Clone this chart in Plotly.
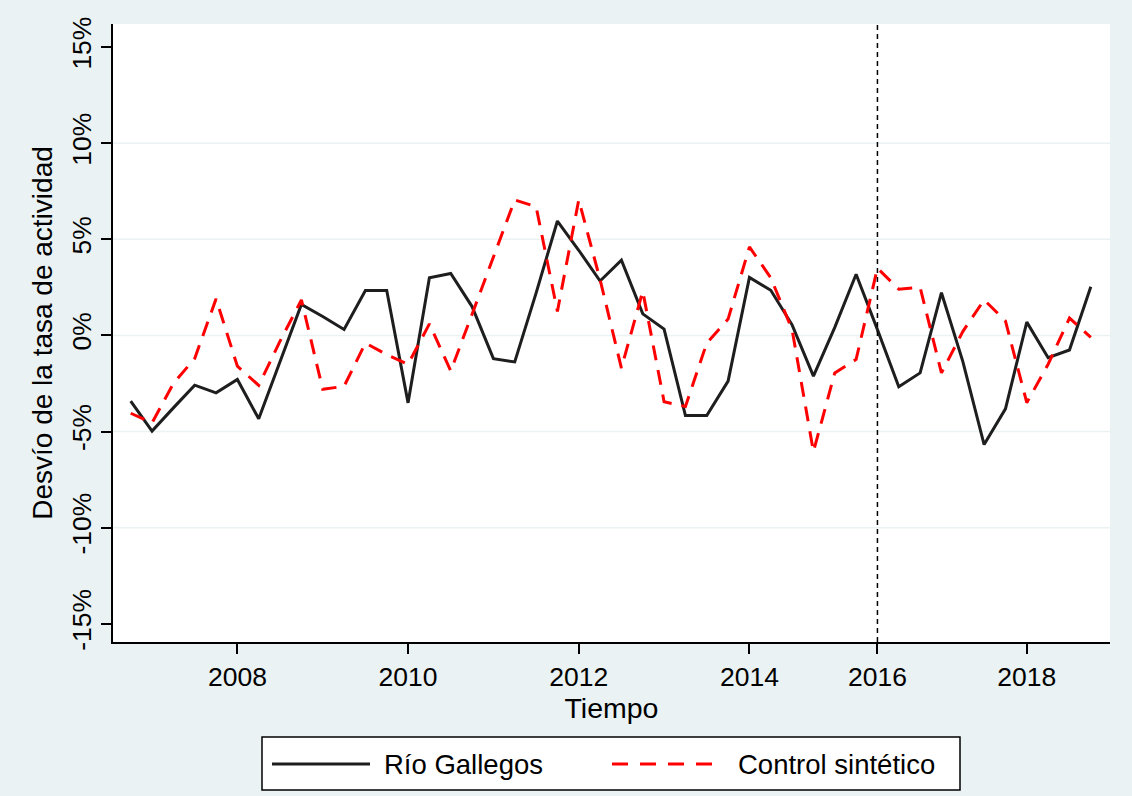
import plotly.graph_objects as go

# Quarterly observation index (gaps in the survey are skipped, so the index is sequential)
periodo = list(range(46))

# Deviation of the activity rate, percent
rio_gallegos = [
    -3.42, -4.98, -3.77, -2.59, -2.99, -2.29, -4.34, -1.37, 1.61, 0.98,
    0.31, 2.34, 2.34, -3.51, 3.00, 3.22, 1.50, -1.21, -1.38, 2.20,
    5.95, 4.43, 2.83, 3.91, 1.12, 0.33, -4.17, -4.17, -2.38, 3.02,
    2.35, 0.55, -2.12, 0.42, 3.18, 0.30, -2.67, -1.95, 2.22, -1.35,
    -5.68, -3.82, 0.69, -1.16, -0.76, 2.53,
]
control_sintetico = [
    -4.05, -4.55, -2.50, -1.20, 1.90, -1.60, -2.60, -0.30, 1.85, -2.80,
    -2.65, -0.40, -1.00, -1.50, 0.60, -1.85, 1.10, 4.10, 7.05, 6.70,
    1.25, 7.05, 2.90, -1.70, 2.30, -3.45, -3.70, -0.40, 0.85, 4.60,
    3.00, 0.30, -6.05, -1.95, -1.25, 3.50, 2.40, 2.50, -1.95, 0.20,
    1.85, 0.75, -3.50, -1.50, 0.90, -0.10,
]

anios_pos = [5, 13, 21, 29, 35, 42]
anios_txt = ["2008", "2010", "2012", "2014", "2016", "2018"]
y_vals = [-15, -10, -5, 0, 5, 10, 15]
y_txt = ["-15%", "-10%", "-5%", "0%", "5%", "10%", "15%"]
grid_vals = [-10, -5, 0, 5, 10]
periodo_tratamiento = 35

serie_nombres = ["Río Gallegos", "Control sintético"]

W, H = 1132, 796
ML, MR, MT, MB = 113, 22, 24, 154
BG = "#EAF2F3"
FONT = "Liberation Sans"
NEGRO = "#1e1e1e"
ROJO = "#ff0000"


def fx(px):
    return (px - ML) / (W - ML - MR)


def fy(py):
    return (H - MB - py) / (H - MT - MB)


fig = go.Figure()
fig.add_trace(go.Scatter(x=periodo, y=rio_gallegos, mode="lines",
                         name=serie_nombres[0],
                         line=dict(color=NEGRO, width=3)))
fig.add_trace(go.Scatter(x=periodo, y=control_sintetico, mode="lines",
                         name=serie_nombres[1],
                         line=dict(color=ROJO, width=3, dash="15px,10px")))

shapes = []
for g in grid_vals:
    shapes.append(dict(type="line", xref="paper", yref="y", x0=0, x1=1, y0=g, y1=g,
                       line=dict(color=BG, width=1.5), layer="below"))
shapes.append(dict(type="line", xref="x", yref="paper",
                   x0=periodo_tratamiento, x1=periodo_tratamiento, y0=0, y1=1,
                   line=dict(color="black", width=1.5, dash="5px,4px")))

# legend box drawn by hand
shapes.append(dict(type="rect", xref="paper", yref="paper",
                   x0=fx(262), x1=fx(960), y0=fy(790), y1=fy(737),
                   fillcolor="white", line=dict(color="black", width=1.5)))
shapes.append(dict(type="line", xref="paper", yref="paper",
                   x0=fx(272), x1=fx(370), y0=fy(764), y1=fy(764),
                   line=dict(color=NEGRO, width=3)))
shapes.append(dict(type="line", xref="paper", yref="paper",
                   x0=fx(612), x1=fx(720), y0=fy(764), y1=fy(764),
                   line=dict(color=ROJO, width=3, dash="16px,12px")))

annotations = [
    dict(xref="paper", yref="paper", x=fx(382), y=fy(764), text=serie_nombres[0],
         showarrow=False, xanchor="left", yanchor="middle",
         font=dict(family=FONT, size=27.5, color="black")),
    dict(xref="paper", yref="paper", x=fx(736), y=fy(764), text=serie_nombres[1],
         showarrow=False, xanchor="left", yanchor="middle",
         font=dict(family=FONT, size=27.5, color="black")),
]

fig.update_layout(
    width=W, height=H,
    margin=dict(l=ML, r=MR, t=MT, b=MB, pad=0),
    paper_bgcolor=BG, plot_bgcolor="white",
    showlegend=False,
    font=dict(family=FONT, size=26.5, color="black"),
    shapes=shapes, annotations=annotations,
    xaxis=dict(range=[-0.83, 45.9], tickmode="array", tickvals=anios_pos,
               ticktext=anios_txt, showgrid=False, zeroline=False,
               showline=True, linecolor="black", linewidth=1.5,
               ticks="outside", ticklen=10, tickwidth=1.5, tickcolor="black",
               title=dict(text="Tiempo", standoff=1,
                          font=dict(family=FONT, size=28.5))),
    yaxis=dict(range=[-15.95, 16.2], tickmode="array", tickvals=y_vals,
               ticktext=y_txt, tickangle=-90, showgrid=False, zeroline=False,
               showline=True, linecolor="black", linewidth=1.5,
               ticks="outside", ticklen=10, tickwidth=1.5, tickcolor="black",
               title=dict(text="Desvío de la tasa de actividad", standoff=6,
                          font=dict(family=FONT, size=28))),
)

fig.write_html("out.html")
